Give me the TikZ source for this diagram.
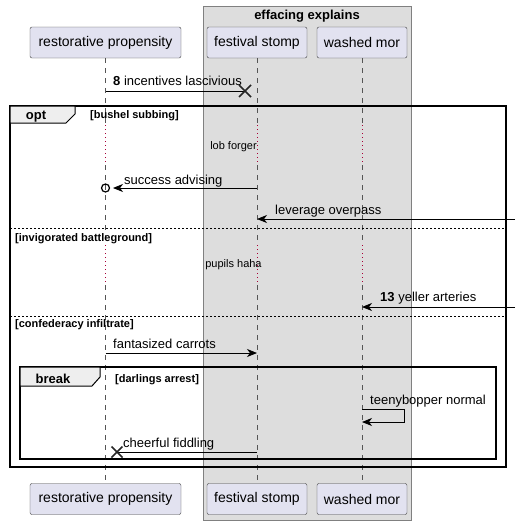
\documentclass[tikz,border=0pt]{standalone}
\usepackage{fontspec}
\setmainfont{Liberation Sans}
\usetikzlibrary{positioning,calc,arrows.meta}
\definecolor{partfill}{HTML}{E2E2F0}
\definecolor{boxfill}{HTML}{DDDDDD}
\definecolor{tabfill}{HTML}{EEEEEE}
\definecolor{delayred}{HTML}{A80036}
\definecolor{lifegray}{HTML}{555555}
\tikzset{
	part/.style={draw=black!75,fill=partfill,rounded corners=2pt,minimum height=31pt,inner sep=0pt,font=\fontsize{14}{16}\selectfont},
	msg/.style={line width=0.9pt,-{Stealth[length=10pt,width=8pt,inset=3pt]}},
	msgtext/.style={anchor=base west,inner sep=0pt,font=\fontsize{13}{15}\selectfont},
	condtext/.style={anchor=base west,inner sep=0pt,font=\fontsize{11}{13}\selectfont\bfseries},
	delaytext/.style={anchor=base,inner sep=0pt,font=\fontsize{11}{13}\selectfont},
	lifeline/.style={lifegray,dash pattern=on 5pt off 5pt,line width=0.6pt},
	delayline/.style={delayred,dash pattern=on 1pt off 3pt,line width=0.8pt},
	frameline/.style={line width=1.5pt},
	sepline/.style={line width=0.7pt,dash pattern=on 2pt off 2pt},
	tab/.style={line width=1pt,fill=tabfill},
	crossmark/.style={line width=1.5pt,black!85}
}
\begin{document}
\begin{tikzpicture}[x=1pt,y=-1pt]
		\useasboundingbox (0,0) rectangle (520,525);
		
		\draw[fill=boxfill,draw=gray] (203,6) rectangle (411,520);
		\node[anchor=base,inner sep=0pt,font=\fontsize{13}{15}\selectfont\bfseries] (ee) at (307,19) {effacing explains};
		
		\node[part,minimum width=151pt] (rp) at (105.5,42.5) {restorative propensity};
		\node[part,minimum width=100pt] (fs) at (257,42.5) {festival stomp};
		\node[part,minimum width=90pt] (wm) at (362,42.5) {washed mor};
		
		\node[part,minimum width=151pt] (rp-b) at (105.5,499) {restorative propensity};
		\node[part,minimum width=100pt] (fs-b) at (257,499) {festival stomp};
		\node[part,minimum width=90pt] (wm-b) at (362,499) {washed mor};
		
		\foreach \p in {rp,fs,wm}{
			\draw[lifeline] (\p.south) -- (\p |- 0,125);
			\draw[delayline] (\p |- 0,125) -- (\p |- 0,165);
			\draw[lifeline] (\p |- 0,165) -- (\p |- 0,245);
			\draw[delayline] (\p |- 0,245) -- (\p |- 0,285);
			\draw[lifeline] (\p |- 0,285) -- (\p-b.north);
		}
		
		% opt frame
		\draw[frameline] (10,106) rectangle (506,467);
		\draw[tab] (10,106) -- (75,106) -- (75,114) -- (66,123) -- (10,123) -- cycle;
		\node[anchor=base,inner sep=0pt,font=\fontsize{13}{15}\selectfont\bfseries] (opt) at (36,119) {opt};
		\node[condtext] (c1) at (90,118) {[bushel subbing]};
		
		\coordinate (x1) at (245,91);
		\draw[line width=0.9pt] (rp |- x1) -- (x1);
		\draw[crossmark] ($(x1)+(-6,-6)$) -- ($(x1)+(6,6)$) ($(x1)+(-6,6)$) -- ($(x1)+(6,-6)$);
		\node[msgtext] (m1) at (113,85) {\textbf{8} incentives lascivious};
		
		\node[delaytext] (d1) at (233.5,149) {lob forger};
		
		\coordinate (o2) at (113,188);
		\draw[msg] (fs |- o2) -- (o2);
		\draw[line width=1.2pt] (rp |- o2) circle[radius=4pt];
		\node[msgtext] (m2) at (124,184) {success advising};
		
		\coordinate (r3) at (515,219);
		\draw[msg] (r3) -- (fs |- r3);
		\node[msgtext] (m3) at (275,214) {leverage overpass};
		
		\draw[sepline] (10,228) -- (506,228);
		\node[condtext] (c2) at (15,241) {[invigorated battleground]};
		
		\node[delaytext] (d2) at (233.5,267) {pupils haha};
		
		\coordinate (r5) at (515,307);
		\draw[msg] (r5) -- (wm |- r5);
		\node[msgtext] (m5) at (380,301) {\textbf{13} yeller arteries};
		
		\draw[sepline] (10,316) -- (506,316);
		\node[condtext] (c3) at (15,327) {[confederacy infiltrate]};
		
		\draw[msg] (rp |- 0,353) -- (fs |- 0,353);
		\node[msgtext] (m6) at (113,348) {fantasized carrots};
		
		% break frame
		\draw[frameline] (20,367) rectangle (496,459);
		\draw[tab] (20,367) -- (100,367) -- (100,377) -- (92,386) -- (20,386) -- cycle;
		\node[anchor=base,inner sep=0pt,font=\fontsize{13}{15}\selectfont\bfseries] (brk) at (53,383) {break};
		\node[condtext] (c4) at (115,382) {[darlings arrest]};
		
		\coordinate (s7) at (404,409);
		\draw[msg] (wm |- s7) -- (s7) -- ++(0,13) -- (wm |- 0,422);
		\node[msgtext] (m7) at (370,404) {teenybopper normal};
		
		\coordinate (x8) at (117,452);
		\draw[line width=0.9pt] (fs |- x8) -- (x8);
		\draw[crossmark] ($(x8)+(-5.5,-5.5)$) -- ($(x8)+(5.5,5.5)$) ($(x8)+(-5.5,5.5)$) -- ($(x8)+(5.5,-5.5)$);
		\node[msgtext] (m8) at (123,447) {cheerful fiddling};
	\end{tikzpicture}
\end{document}
